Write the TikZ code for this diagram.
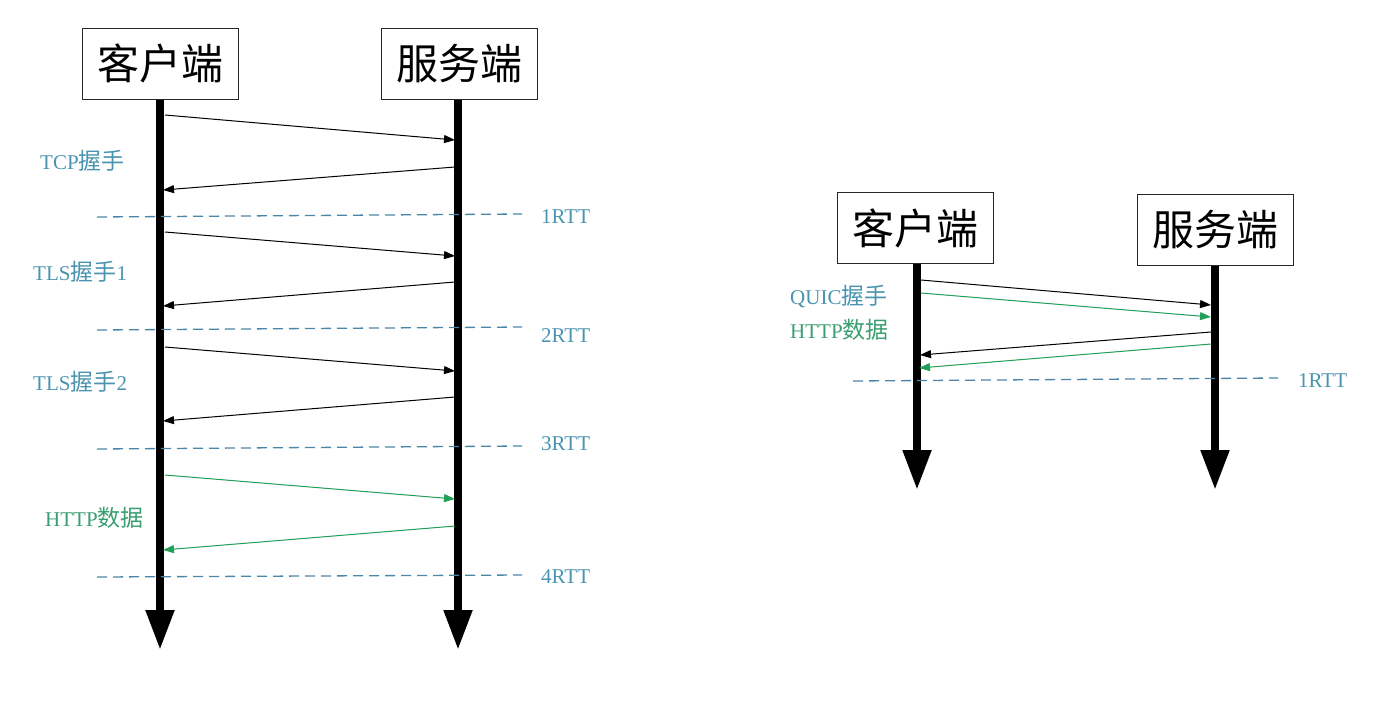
\documentclass[tikz,border=0pt]{standalone}
\usepackage{fontspec}
\setmainfont{Liberation Serif}
\newfontfamily\cjk{Noto Sans CJK SC}
\usetikzlibrary{arrows.meta}
\definecolor{lbltxt}{HTML}{4A94B0}
\definecolor{dashc}{HTML}{4A86A8}
\definecolor{grn}{HTML}{22A05A}
\definecolor{grntxt}{HTML}{3A9E70}
\newcommand{\zh}[1]{{\cjk\fontsize{23}{24}\selectfont #1}}
\begin{document}
\begin{tikzpicture}[x=1pt,y=-1pt,
  box/.style={draw=black!85,line width=1pt,minimum width=156pt,minimum height=71pt,inner sep=0pt,font=\cjk\fontsize{42}{44}\selectfont},
  life/.style={line width=8pt,-{Triangle[length=40pt,width=27pt]}},
  msg/.style={line width=1pt,-{Triangle[length=11pt,width=8pt]}},
  gmsg/.style={msg,draw=grn,fill=grn},
  rtt/.style={draw=dashc,line width=1.3pt,dash pattern=on 10pt off 6pt},
  lbl/.style={text=lbltxt,font=\fontsize{21}{24}\selectfont,anchor=west,inner sep=0pt},
  glbl/.style={lbl,text=grntxt}]
\useasboundingbox (0,0) rectangle (1396,710);

% ---------- left diagram ----------
\node[box] (lc) at (160,63.5) {客户端};
\node[box] (ls) at (459,63.5) {服务端};
\coordinate (lcend) at (160,650);
\coordinate (lsend) at (458,650);
\draw[life] (lc.south) -- (lcend);
\draw[life] (ls.south -| lsend) -- (lsend);

\coordinate (a1) at (165,115); \coordinate (b1) at (455,140);
\coordinate (a2) at (455,167); \coordinate (b2) at (163,190);
\coordinate (a3) at (165,232); \coordinate (b3) at (455,256);
\coordinate (a4) at (455,282); \coordinate (b4) at (163,306);
\coordinate (a5) at (165,347); \coordinate (b5) at (455,371);
\coordinate (a6) at (455,397); \coordinate (b6) at (163,421);
\coordinate (a7) at (165,475); \coordinate (b7) at (455,499);
\coordinate (a8) at (455,526); \coordinate (b8) at (163,550);
\draw[msg] (a1) -- (b1);
\draw[msg] (a2) -- (b2);
\draw[msg] (a3) -- (b3);
\draw[msg] (a4) -- (b4);
\draw[msg] (a5) -- (b5);
\draw[msg] (a6) -- (b6);
\draw[gmsg] (a7) -- (b7);
\draw[gmsg] (a8) -- (b8);

\coordinate (d1a) at (97,217); \coordinate (d1b) at (522,214);
\coordinate (d2a) at (97,330); \coordinate (d2b) at (522,327);
\coordinate (d3a) at (97,449); \coordinate (d3b) at (522,446);
\coordinate (d4a) at (97,577); \coordinate (d4b) at (522,575);
\draw[rtt] (d1a) -- (d1b);
\draw[rtt] (d2a) -- (d2b);
\draw[rtt] (d3a) -- (d3b);
\draw[rtt] (d4a) -- (d4b);
\node[lbl] (r1) at (541,217) {1RTT};
\node[lbl] (r2) at (541,336) {2RTT};
\node[lbl] (r3) at (541,444) {3RTT};
\node[lbl] (r4) at (541,577) {4RTT};

\node[lbl] (t1) at (40,161) {TCP\zh{握手}};
\node[lbl] (t2) at (33,272) {TLS\zh{握手}1};
\node[lbl] (t3) at (33,382) {TLS\zh{握手}2};
\node[glbl] (t4) at (45,518) {HTTP\zh{数据}};

% ---------- right diagram ----------
\node[box] (rc) at (915.5,228) {客户端};
\node[box] (rs) at (1215.5,229.5) {服务端};
\coordinate (rcend) at (917,490);
\coordinate (rsend) at (1215,490);
\draw[life] (rc.south -| rcend) -- (rcend);
\draw[life] (rs.south -| rsend) -- (rsend);

\coordinate (q1a) at (921,280); \coordinate (q1b) at (1211,305);
\coordinate (q2a) at (921,293); \coordinate (q2b) at (1211,317);
\coordinate (q3a) at (1211,332); \coordinate (q3b) at (920,355);
\coordinate (q4a) at (1211,344); \coordinate (q4b) at (919,368);
\draw[msg] (q1a) -- (q1b);
\draw[gmsg] (q2a) -- (q2b);
\draw[msg] (q3a) -- (q3b);
\draw[gmsg] (q4a) -- (q4b);

\coordinate (qda) at (853,381); \coordinate (qdb) at (1278,378);
\draw[rtt] (qda) -- (qdb);
\node[lbl] (qr) at (1298,381) {1RTT};
\node[lbl] (qt1) at (790,297) {QUIC\zh{握手}};
\node[glbl] (qt2) at (790,330) {HTTP\zh{数据}};
\end{tikzpicture}
\end{document}
